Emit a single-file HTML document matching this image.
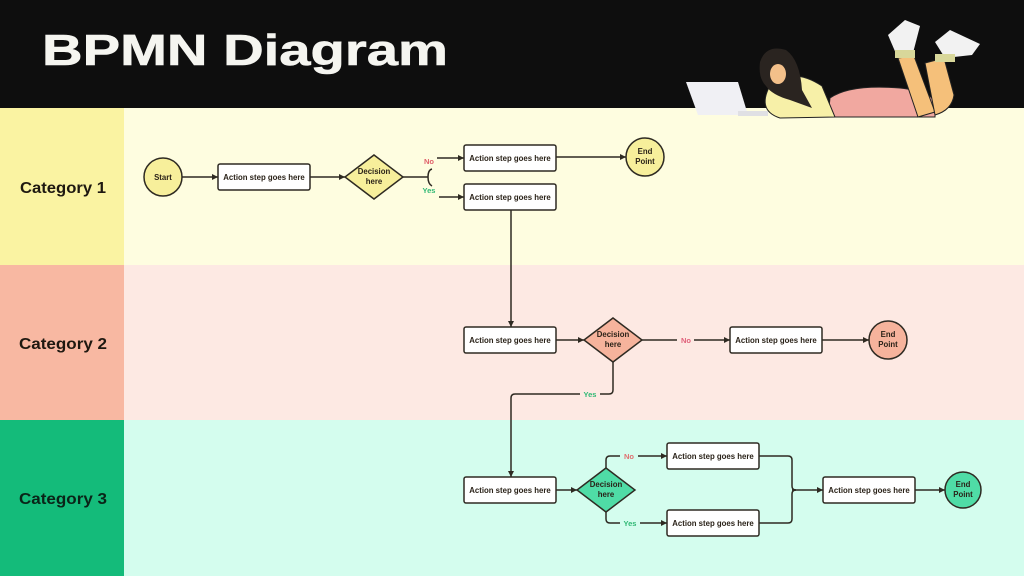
<!DOCTYPE html>
<html><head><meta charset="utf-8"><style>
html,body{margin:0;padding:0;width:1024px;height:576px;overflow:hidden;background:#fff}
svg{display:block}
text{font-family:"Liberation Sans",sans-serif;font-weight:bold}
</style></head><body>
<svg width="1024" height="576" viewBox="0 0 1024 576" xmlns="http://www.w3.org/2000/svg">
<defs>
<marker id="a" markerWidth="7" markerHeight="7" refX="6" refY="3.5" orient="auto" markerUnits="userSpaceOnUse"><path d="M0,0.5 L6,3.5 L0,6.5 z" fill="#2e2a22"/></marker>
</defs>
<rect x="0" y="108" width="124" height="157" fill="#faf3a2"/>
<rect x="124" y="108" width="900" height="157" fill="#fefde0"/>
<rect x="0" y="265" width="124" height="155" fill="#f8b8a2"/>
<rect x="124" y="265" width="900" height="155" fill="#fde9e3"/>
<rect x="0" y="420" width="124" height="156" fill="#14bb7a"/>
<rect x="124" y="420" width="900" height="156" fill="#d4fdee"/>
<rect x="0" y="0" width="1024" height="108" fill="#0e0e0e"/>
<text x="42" y="65" font-size="44" fill="#f5f5f0" stroke="#f5f5f0" stroke-width="0.6" textLength="406" lengthAdjust="spacingAndGlyphs">BPMN Diagram</text>
<g>
<path d="M830,98 Q850,84 900,88 Q935,92 935,105 L935,117 L828,117 Z" fill="#f1a8a0" stroke="#222" stroke-width="1"/>
<path d="M898,58 L914,56 L935,112 L918,117 Z" fill="#f5c07a" stroke="#222" stroke-width="1"/>
<path d="M925,63 L944,58 L954,95 Q952,110 935,115 Z" fill="#f5c07a" stroke="#222" stroke-width="1"/>
<path d="M888,35 L905,20 L920,26 L913,53 L897,56 Z" fill="#f2f2f2"/>
<path d="M935,42 L950,30 L980,44 L972,55 L945,58 Z" fill="#f2f2f2"/>
<rect x="895" y="50" width="20" height="8" fill="#d8d79a"/>
<rect x="935" y="54" width="20" height="8" fill="#d8d79a"/>
<path d="M772,82 Q795,68 822,86 L835,117 L780,118 Q755,110 772,82 Z" fill="#f7f0a8" stroke="#222" stroke-width="1"/>
<path d="M760,62 Q766,44 786,50 Q800,60 802,90 L812,108 L790,100 Q772,95 766,86 Q758,78 760,62 Z" fill="#2a2420"/>
<ellipse cx="778" cy="74" rx="8" ry="10" fill="#f3c08a"/>
<path d="M686,82 L738,82 L748,115 L698,115 Z" fill="#f0f0f4"/>
<rect x="738" y="111" width="30" height="5" fill="#e0e0e4"/>
</g>
<text x="20" y="193" font-size="16" fill="#1e1810" textLength="86" lengthAdjust="spacingAndGlyphs">Category 1</text>
<text x="19" y="349" font-size="16" fill="#1e1810" textLength="88" lengthAdjust="spacingAndGlyphs">Category 2</text>
<text x="19" y="504" font-size="16" fill="#0a2418" textLength="88" lengthAdjust="spacingAndGlyphs">Category 3</text>

<g stroke="#2e2a22" stroke-width="1.5" fill="none">
<line x1="182" y1="177" x2="218" y2="177" marker-end="url(#a)"/>
<line x1="310" y1="177" x2="345" y2="177" marker-end="url(#a)"/>
<line x1="403" y1="177" x2="428" y2="177"/>
<path d="M432,169 Q428,170 428,177 Q428,184 432,186"/>
<line x1="437" y1="158" x2="464" y2="158" marker-end="url(#a)"/>
<line x1="439" y1="197" x2="464" y2="197" marker-end="url(#a)"/>
<line x1="556" y1="157" x2="626" y2="157" marker-end="url(#a)"/>
<line x1="511" y1="210" x2="511" y2="327" marker-end="url(#a)"/>
<line x1="556" y1="340" x2="584" y2="340" marker-end="url(#a)"/>
<line x1="642" y1="340" x2="677" y2="340"/>
<line x1="694" y1="340" x2="730" y2="340" marker-end="url(#a)"/>
<line x1="822" y1="340" x2="869" y2="340" marker-end="url(#a)"/>
<path d="M613,362 L613,390 Q613,394 609,394 L600,394"/>
<path d="M580,394 L515,394 Q511,394 511,398 L511,477" marker-end="url(#a)"/>
<line x1="556" y1="490" x2="577" y2="490" marker-end="url(#a)"/>
<path d="M606,468 L606,460 Q606,456 610,456 L620,456"/>
<line x1="638" y1="456" x2="667" y2="456" marker-end="url(#a)"/>
<path d="M606,512 L606,519 Q606,523 610,523 L620,523"/>
<line x1="640" y1="523" x2="667" y2="523" marker-end="url(#a)"/>
<path d="M759,456 L788,456 Q792,456 792,460 L792,486 Q792,490 796,490"/>
<path d="M759,523 L788,523 Q792,523 792,519 L792,494 Q792,490 796,490"/>
<line x1="792" y1="490" x2="823" y2="490" marker-end="url(#a)"/>
<line x1="915" y1="490" x2="945" y2="490" marker-end="url(#a)"/>
</g>

<g stroke="#2e2a22" stroke-width="1.5">
<circle cx="163" cy="177" r="19" fill="#f7ef9b"/>
<circle cx="645" cy="157" r="19" fill="#f7ef9b"/>
<circle cx="888" cy="340" r="19" fill="#f6b39c"/>
<circle cx="963" cy="490" r="18" fill="#4fdca6"/>
<polygon points="374,155 403,177 374,199 345,177" fill="#f7ef9b"/>
<polygon points="613,318 642,340 613,362 584,340" fill="#f6b39c"/>
<polygon points="606,468 635,490 606,512 577,490" fill="#4fdca6"/>
<g fill="#fff">
<rect x="218" y="164" width="92" height="26" rx="2"/>
<rect x="464" y="145" width="92" height="26" rx="2"/>
<rect x="464" y="184" width="92" height="26" rx="2"/>
<rect x="464" y="327" width="92" height="26" rx="2"/>
<rect x="730" y="327" width="92" height="26" rx="2"/>
<rect x="464" y="477" width="92" height="26" rx="2"/>
<rect x="667" y="443" width="92" height="26" rx="2"/>
<rect x="667" y="510" width="92" height="26" rx="2"/>
<rect x="823" y="477" width="92" height="26" rx="2"/>
</g>
</g>

<g font-size="7.8" fill="#2a2218" text-anchor="middle">
<text x="163" y="180">Start</text>
<text x="264" y="180">Action step goes here</text>
<text x="510" y="161">Action step goes here</text>
<text x="510" y="200">Action step goes here</text>
<text x="510" y="343">Action step goes here</text>
<text x="776" y="343">Action step goes here</text>
<text x="510" y="493">Action step goes here</text>
<text x="713" y="459">Action step goes here</text>
<text x="713" y="526">Action step goes here</text>
<text x="869" y="493">Action step goes here</text>
<text x="374" y="174">Decision</text><text x="374" y="184">here</text>
<text x="613" y="337">Decision</text><text x="613" y="347">here</text>
<text x="606" y="487">Decision</text><text x="606" y="497">here</text>
<text x="645" y="154">End</text><text x="645" y="164">Point</text>
<text x="888" y="337">End</text><text x="888" y="347">Point</text>
<text x="963" y="487">End</text><text x="963" y="497">Point</text>
</g>
<g font-size="7.5" text-anchor="middle">
<text x="429" y="164" fill="#e0606a">No</text>
<text x="429" y="193" fill="#2fb874">Yes</text>
<text x="686" y="343" fill="#e0607a">No</text>
<text x="590" y="397" fill="#2fb874">Yes</text>
<text x="629" y="459" fill="#e07070">No</text>
<text x="630" y="526" fill="#2fb874">Yes</text>
</g>
</svg>
</body></html>
